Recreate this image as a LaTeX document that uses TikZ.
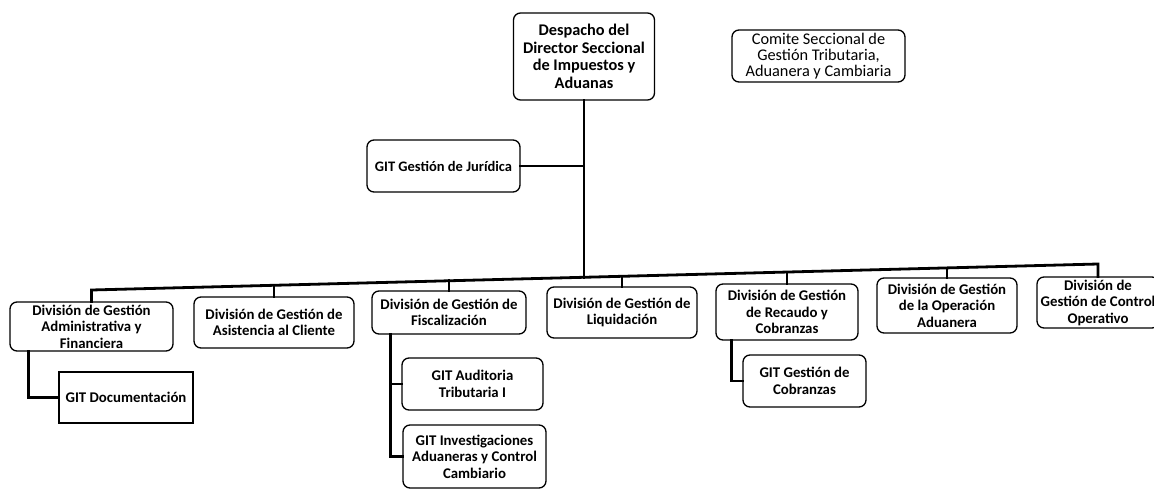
\documentclass[tikz,border=0pt]{standalone}
\usepackage{fontspec}
\setmainfont{Carlito}
\begin{document}
\begin{tikzpicture}[x=1pt,y=-1pt,
  box/.style={draw=black,line width=1.3pt,rounded corners=7pt,align=center,inner sep=0pt,
    font=\bfseries\fontsize{14.8}{16.5}\selectfont},
  sqbox/.style={box,rounded corners=0pt},
  conn/.style={draw=black,line width=2.8pt,line cap=rect}]
\clip (0,0) rectangle (1154,490);
\fill[white] (0,0) rectangle (1154,490);
% top
\node[box,minimum width=141pt,minimum height=87pt,font=\bfseries\fontsize{16.3}{17.5}\selectfont] (desp) at (584,56.5)
  {Despacho del\\Director Seccional\\de Impuestos y\\Aduanas};
\node[box,minimum width=173pt,minimum height=52pt,font=\fontsize{16.3}{16.3}\selectfont] (comite) at (818.5,56)
  {Comite Seccional de\\Gestión Tributaria,\\Aduanera y Cambiaria};
\node[box,minimum width=153pt,minimum height=52pt,font=\bfseries\fontsize{14.5}{16.5}\selectfont] (jur) at (443.5,166) {GIT Gestión de Jurídica};
% divisions
\node[box,minimum width=163pt,minimum height=49pt] (adm) at (91.5,326.5) {División de Gestión\\Administrativa y\\Financiera};
\node[box,minimum width=160pt,minimum height=51pt] (asi) at (274,322.5) {División de Gestión de\\Asistencia al Cliente};
\node[box,minimum width=154pt,minimum height=43pt] (fis) at (449,312.5) {División de Gestión de\\Fiscalización};
\node[box,minimum width=150pt,minimum height=51pt] (liq) at (622,312.5) {División de Gestión de\\Liquidación};
\node[box,minimum width=142pt,minimum height=56pt] (rec) at (787,312) {División de Gestión\\de Recaudo y\\Cobranzas};
\node[box,minimum width=140pt,minimum height=55pt] (ope) at (947,305.5) {División de Gestión\\de la Operación\\Aduanera};
\node[box,minimum width=122pt,minimum height=51pt] (ctl) at (1098,302.5) {División de\\Gestión de Control\\Operativo};
% sub units
\node[sqbox,minimum width=134pt,minimum height=51pt] (doc) at (126,397.5) {GIT Documentación};
\node[box,minimum width=141pt,minimum height=52pt] (aud) at (472.5,384) {GIT Auditoria\\Tributaria I};
\node[box,minimum width=143pt,minimum height=63pt] (inv) at (474.5,456.5) {GIT Investigaciones\\Aduaneras y Control\\Cambiario};
\node[box,minimum width=123pt,minimum height=52pt] (cob) at (804.5,381) {GIT Gestión de\\Cobranzas};
% bus coordinates
\coordinate (b1) at (91.5,290);
\coordinate (b2) at (274,285.3);
\coordinate (b3) at (449,280.8);
\coordinate (bt) at (584,277.3);
\coordinate (b4) at (622,276.3);
\coordinate (b5) at (787,272);
\coordinate (b6) at (947,267.9);
\coordinate (b7) at (1098,264);
% connectors
\draw[conn] (desp.south) -- (bt);
\draw[conn] (jur.east) -- (jur.east -| desp.south);
\draw[conn] (adm.north) -- (b1) -- (b7) -- (ctl.north);
\draw[conn] (asi.north) -- (b2);
\draw[conn] (fis.north) -- (b3);
\draw[conn] (liq.north) -- (b4);
\draw[conn] (rec.north) -- (b5);
\draw[conn] (ope.north) -- (b6);
\draw[conn] ([xshift=19pt]adm.south west) |- (doc.west);
\draw[conn] ([xshift=19pt]fis.south west) |- (aud.west);
\draw[conn] ([xshift=19pt]fis.south west) |- (inv.west);
\draw[conn] ([xshift=16pt]rec.south west) |- (cob.west);
\end{tikzpicture}
\end{document}
